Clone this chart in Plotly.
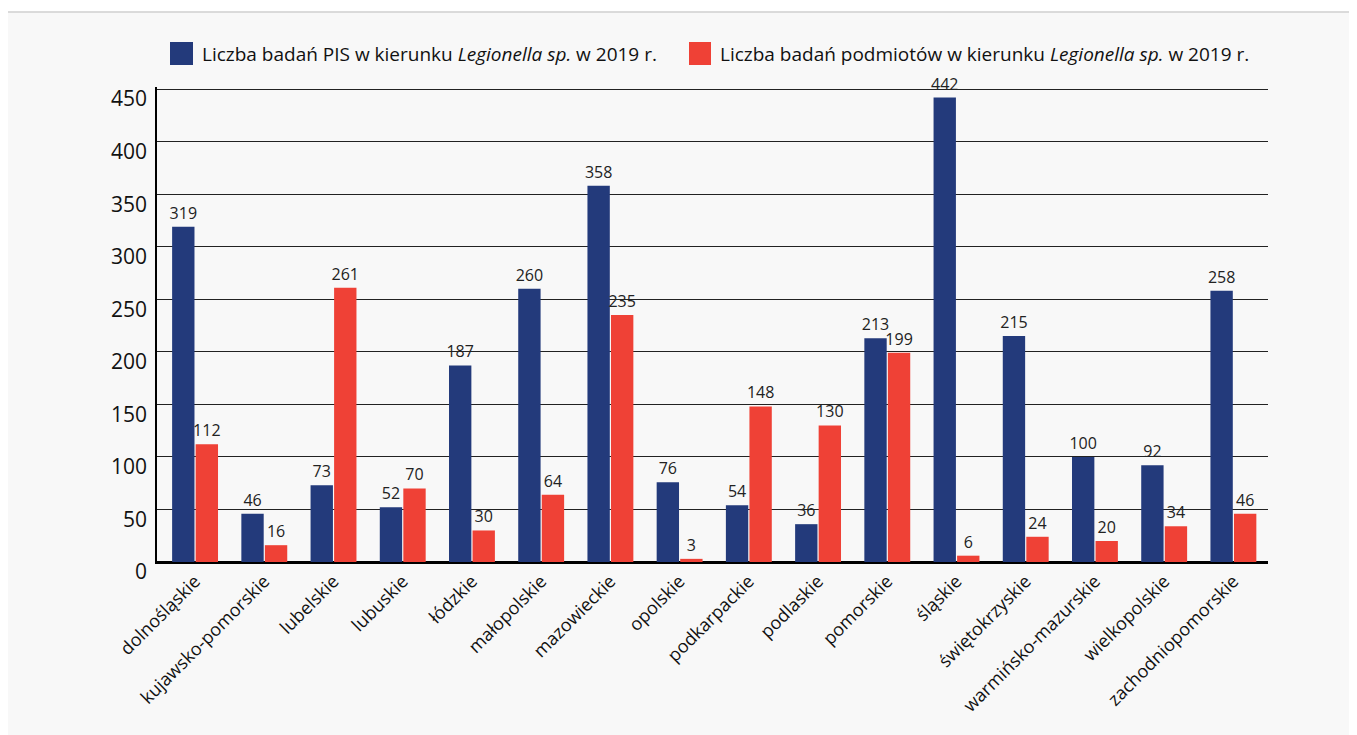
import plotly.graph_objects as go

categories = ["dolnośląskie", "kujawsko-pomorskie", "lubelskie", "lubuskie", "łódzkie",
              "małopolskie", "mazowieckie", "opolskie", "podkarpackie", "podlaskie",
              "pomorskie", "śląskie", "świętokrzyskie", "warmińsko-mazurskie",
              "wielkopolskie", "zachodniopomorskie"]
pis_values = [319, 46, 73, 52, 187, 260, 358, 76, 54, 36, 213, 442, 215, 100, 92, 258]
entity_values = [112, 16, 261, 70, 30, 64, 235, 3, 148, 130, 199, 6, 24, 20, 34, 46]
series_names = ["Liczba badań PIS w kierunku <i>Legionella sp.</i> w 2019 r.",
                "Liczba badań podmiotów w kierunku <i>Legionella sp.</i> w 2019 r."]
y_ticks = [0, 50, 100, 150, 200, 250, 300, 350, 400, 450]

BLUE = "#233a7b"
RED = "#ef4136"
FONT = "Open Sans"
OFF = 8  # browser body margin

fig = go.Figure()
for vals, color, name in [(pis_values, BLUE, series_names[0]), (entity_values, RED, series_names[1])]:
    fig.add_trace(go.Bar(
        x=categories, y=vals, name=name, marker=dict(color=color, line=dict(width=0)),
        text=[str(v) for v in vals], textposition="outside", cliponaxis=False,
        constraintext="none",
        textfont=dict(size=16, color="#222222", family=FONT),
        showlegend=False,
    ))

W, H = 1357, 735
AX_L, AX_R, AX_T, AX_B = 157, 1268, 87, 562
L = AX_L - OFF
R = W - (AX_R - OFF)
T = AX_T - OFF
B = H - (AX_B - OFF)
pw, ph = W - L - R, H - T - B

def px(x):
    return (x - OFF - L) / pw

def py(y):
    return (H - B - (y - OFF)) / ph

shapes = [
    dict(type="rect", xref="paper", yref="paper", x0=px(7), x1=px(1370), y0=py(12), y1=py(760),
         fillcolor="#f8f8f8", line=dict(color="#cfcfcf", width=1.5), layer="below"),
    dict(type="rect", xref="paper", yref="paper", x0=px(170), x1=px(193), y0=py(42), y1=py(65),
         fillcolor=BLUE, line=dict(width=0)),
    dict(type="rect", xref="paper", yref="paper", x0=px(689), x1=px(711), y0=py(42), y1=py(65),
         fillcolor=RED, line=dict(width=0)),
]
annotations = [
    dict(xref="paper", yref="paper", x=px(200), y=py(54), xanchor="left", yanchor="middle",
         text=series_names[0], showarrow=False, font=dict(size=19, color="#111111", family=FONT)),
    dict(xref="paper", yref="paper", x=px(718), y=py(54), xanchor="left", yanchor="middle",
         text=series_names[1], showarrow=False, font=dict(size=19, color="#111111", family=FONT)),
]

fig.update_layout(
    width=W, height=H,
    margin=dict(l=L, r=R, t=T, b=B),
    paper_bgcolor="white", plot_bgcolor="rgba(0,0,0,0)",
    barmode="group", bargap=0.32, bargroupgap=0.05,
    shapes=shapes, annotations=annotations,
    font=dict(family=FONT, color="#111111"),
)
fig.update_xaxes(tickangle=-45, tickfont=dict(size=18, family=FONT, color="#111111"),
                 range=[-0.55, 15.5],
                 showline=True, linecolor="black", linewidth=1.5, ticks="", showgrid=False)
fig.update_yaxes(range=[0, 452], tickvals=y_ticks, tickfont=dict(size=21, family=FONT, color="#111111"),
                 showgrid=True, gridcolor="#222222", gridwidth=1, showline=True, linecolor="black",
                 linewidth=1.5, zeroline=True, zerolinecolor="black", zerolinewidth=1.5,
                 ticks="", ticklabelshift=10, ticklabelstandoff=4)

fig.write_html("out.html")
